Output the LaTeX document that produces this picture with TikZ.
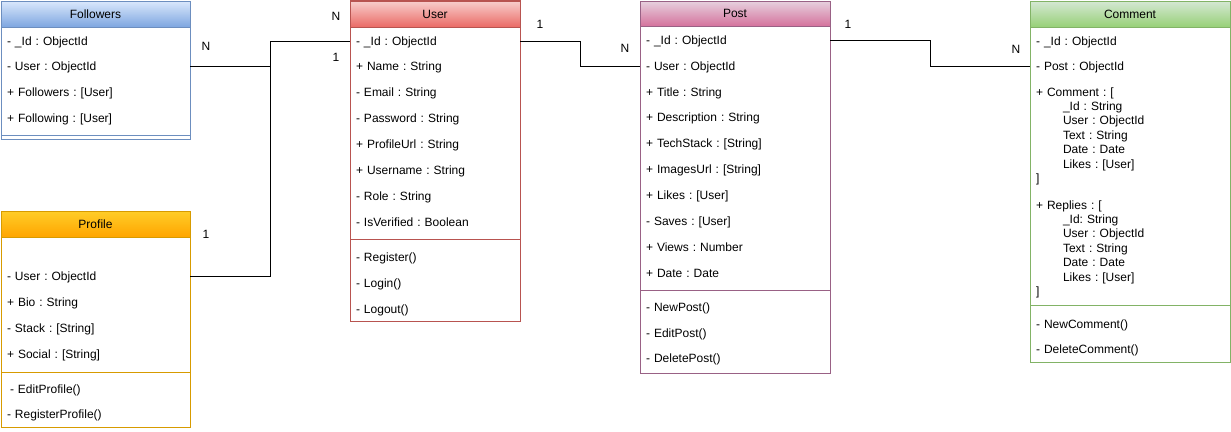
\documentclass[tikz,border=0pt]{standalone}
\usepackage{fontspec}
\setmainfont{Liberation Sans}
\usepackage{tikz}
\frenchspacing

\definecolor{folline}{HTML}{6C8EBF}
\definecolor{foltop}{HTML}{DAE8FC}
\definecolor{folbot}{HTML}{7EA6E0}
\definecolor{proline}{HTML}{D79B00}
\definecolor{protop}{HTML}{FFCD28}
\definecolor{probot}{HTML}{FFA500}
\definecolor{usrline}{HTML}{B85450}
\definecolor{usrtop}{HTML}{F8CECC}
\definecolor{usrbot}{HTML}{EA6B66}
\definecolor{pstline}{HTML}{996185}
\definecolor{psttop}{HTML}{E6D0DE}
\definecolor{pstbot}{HTML}{D5739D}
\definecolor{comline}{HTML}{82B366}
\definecolor{comtop}{HTML}{D5E8D4}
\definecolor{combot}{HTML}{97D077}

\begin{document}
\begin{tikzpicture}[x=1pt,y=-1pt,line width=1pt,font=\fontsize{12}{14.4}\selectfont,
  card/.style={anchor=north west,draw=#1,inner sep=0pt,outer sep=0pt},
  head/.style={anchor=north west,draw=#1,inner sep=0pt,outer sep=0pt},
  attr/.style={anchor=west,text width=#1,inner xsep=6pt,inner ysep=0pt,outer sep=0pt,text height=10pt,text depth=2pt},
  block/.style={anchor=north west,text width=#1,inner xsep=6pt,inner ysep=0pt,outer sep=0pt,align=left},
  mult/.style={inner sep=0pt}]
\useasboundingbox (0,0) rectangle (1231,431);

\node[card=folline,minimum width=189pt,minimum height=138pt] (followersbox) at (1,1) {};
\node[head=folline,top color=foltop,bottom color=folbot,minimum width=189pt,minimum height=26pt] (followers) at (1,1) {Followers};
\node[attr=177pt] (fid) at (1,41) {- \_Id : ObjectId};
\node[attr=177pt] (fuser) at (1,66) {- User : ObjectId};
\node[attr=177pt] (ffollowers) at (1,92) {+ Followers : [User]};
\node[attr=177pt] (ffollowing) at (1,118) {+ Following : [User]};
\draw[folline] (1,135) -- (190,135);

\node[card=proline,minimum width=189pt,minimum height=216pt] (profilebox) at (1,211) {};
\node[head=proline,top color=protop,bottom color=probot,minimum width=189pt,minimum height=26pt] (profile) at (1,211) {Profile};
\node[attr=177pt] (puser) at (1,276) {- User : ObjectId};
\node[attr=177pt] (pbio) at (1,302) {+ Bio : String};
\node[attr=177pt] (pstack) at (1,328) {- Stack : [String]};
\node[attr=177pt] (psocial) at (1,354) {+ Social : [String]};
\draw[proline] (1,372) -- (190,372);
\node[attr=177pt] (pedit) at (1,389) {\hspace*{3pt}- EditProfile()};
\node[attr=177pt] (pregister) at (1,414) {- RegisterProfile()};

\node[card=usrline,minimum width=170pt,minimum height=320pt] (userbox) at (350,1) {};
\node[head=usrline,top color=usrtop,bottom color=usrbot,minimum width=170pt,minimum height=26pt] (user) at (350,1) {User};
\node[attr=158pt] (uid) at (350,41) {- \_Id : ObjectId};
\node[attr=158pt] (uname) at (350,66) {+ Name : String};
\node[attr=158pt] (uemail) at (350,92) {- Email : String};
\node[attr=158pt] (upass) at (350,118) {- Password : String};
\node[attr=158pt] (uprofile) at (350,144) {+ ProfileUrl : String};
\node[attr=158pt] (uusername) at (350,170) {+ Username : String};
\node[attr=158pt] (urole) at (350,196) {- Role : String};
\node[attr=158pt] (uverified) at (350,222) {- IsVerified : Boolean};
\draw[usrline] (350,239) -- (520,239);
\node[attr=158pt] (uregister) at (350,257) {- Register()};
\node[attr=158pt] (ulogin) at (350,283) {- Login()};
\node[attr=158pt] (ulogout) at (350,309) {- Logout()};

\node[card=pstline,minimum width=190pt,minimum height=372pt] (postbox) at (640,1) {};
\node[head=pstline,top color=psttop,bottom color=pstbot,minimum width=190pt,minimum height=25pt] (post) at (640,1) {Post};
\node[attr=178pt] (poid) at (640,40) {- \_Id : ObjectId};
\node[attr=178pt] (pouser) at (640,66) {- User : ObjectId};
\node[attr=178pt] (potitle) at (640,92) {+ Title : String};
\node[attr=178pt] (podesc) at (640,117) {+ Description : String};
\node[attr=178pt] (potech) at (640,143) {+ TechStack : [String]};
\node[attr=178pt] (poimages) at (640,169) {+ ImagesUrl : [String]};
\node[attr=178pt] (polikes) at (640,195) {+ Likes : [User]};
\node[attr=178pt] (posaves) at (640,221) {- Saves : [User]};
\node[attr=178pt] (poviews) at (640,247) {+ Views : Number};
\node[attr=178pt] (podate) at (640,273) {+ Date : Date};
\draw[pstline] (640,290) -- (830,290);
\node[attr=178pt] (ponew) at (640,307) {- NewPost()};
\node[attr=178pt] (poedit) at (640,333) {- EditPost()};
\node[attr=178pt] (podelete) at (640,358) {- DeletePost()};

\node[card=comline,minimum width=200pt,minimum height=361pt] (commentbox) at (1030,1) {};
\node[head=comline,top color=comtop,bottom color=combot,minimum width=200pt,minimum height=26pt] (comment) at (1030,1) {Comment};
\node[attr=188pt] (cid) at (1030,41) {- \_Id : ObjectId};
\node[attr=188pt] (cpost) at (1030,66) {- Post : ObjectId};
\node[block=188pt] (ccomment) at (1030,86) {\strut+ Comment : [\\
  \hspace*{27pt}\_Id : String\\
  \hspace*{27pt}User : ObjectId\\
  \hspace*{27pt}Text : String\\
  \hspace*{27pt}Date : Date\\
  \hspace*{27pt}Likes : [User]\\
  ]};
\node[block=188pt] (creplies) at (1030,199) {\strut+ Replies : [\\
  \hspace*{27pt}\_Id: String\\
  \hspace*{27pt}User : ObjectId\\
  \hspace*{27pt}Text : String\\
  \hspace*{27pt}Date : Date\\
  \hspace*{27pt}Likes : [User]\\
  ]};
\draw[comline] (1030,305.5) -- (1230,305.5);
\node[attr=188pt] (cnew) at (1030,324) {- NewComment()};
\node[attr=188pt] (cdelete) at (1030,349) {- DeleteComment()};

\coordinate (j1) at (270,41);
\coordinate (j2) at (580,66);
\coordinate (j3) at (930,66);
\draw (fuser.east) -| (j1) -- (uid.west);
\draw (puser.east) -| (j1);
\draw (uid.east) -| (j2) -- (pouser.west);
\draw (poid.east) -| (j3) -- (cpost.west);

\node[mult] (mfollowers) at (206,46) {N};
\node[mult] (mprofile) at (206,234) {1};
\node[mult] (muserf) at (336,16) {N};
\node[mult] (muserp) at (336,57) {1};
\node[mult] (muserpost) at (540,24) {1};
\node[mult] (mpostuser) at (625,48) {N};
\node[mult] (mpostcom) at (848,24) {1};
\node[mult] (mcompost) at (1016,49) {N};
\end{tikzpicture}
\end{document}
